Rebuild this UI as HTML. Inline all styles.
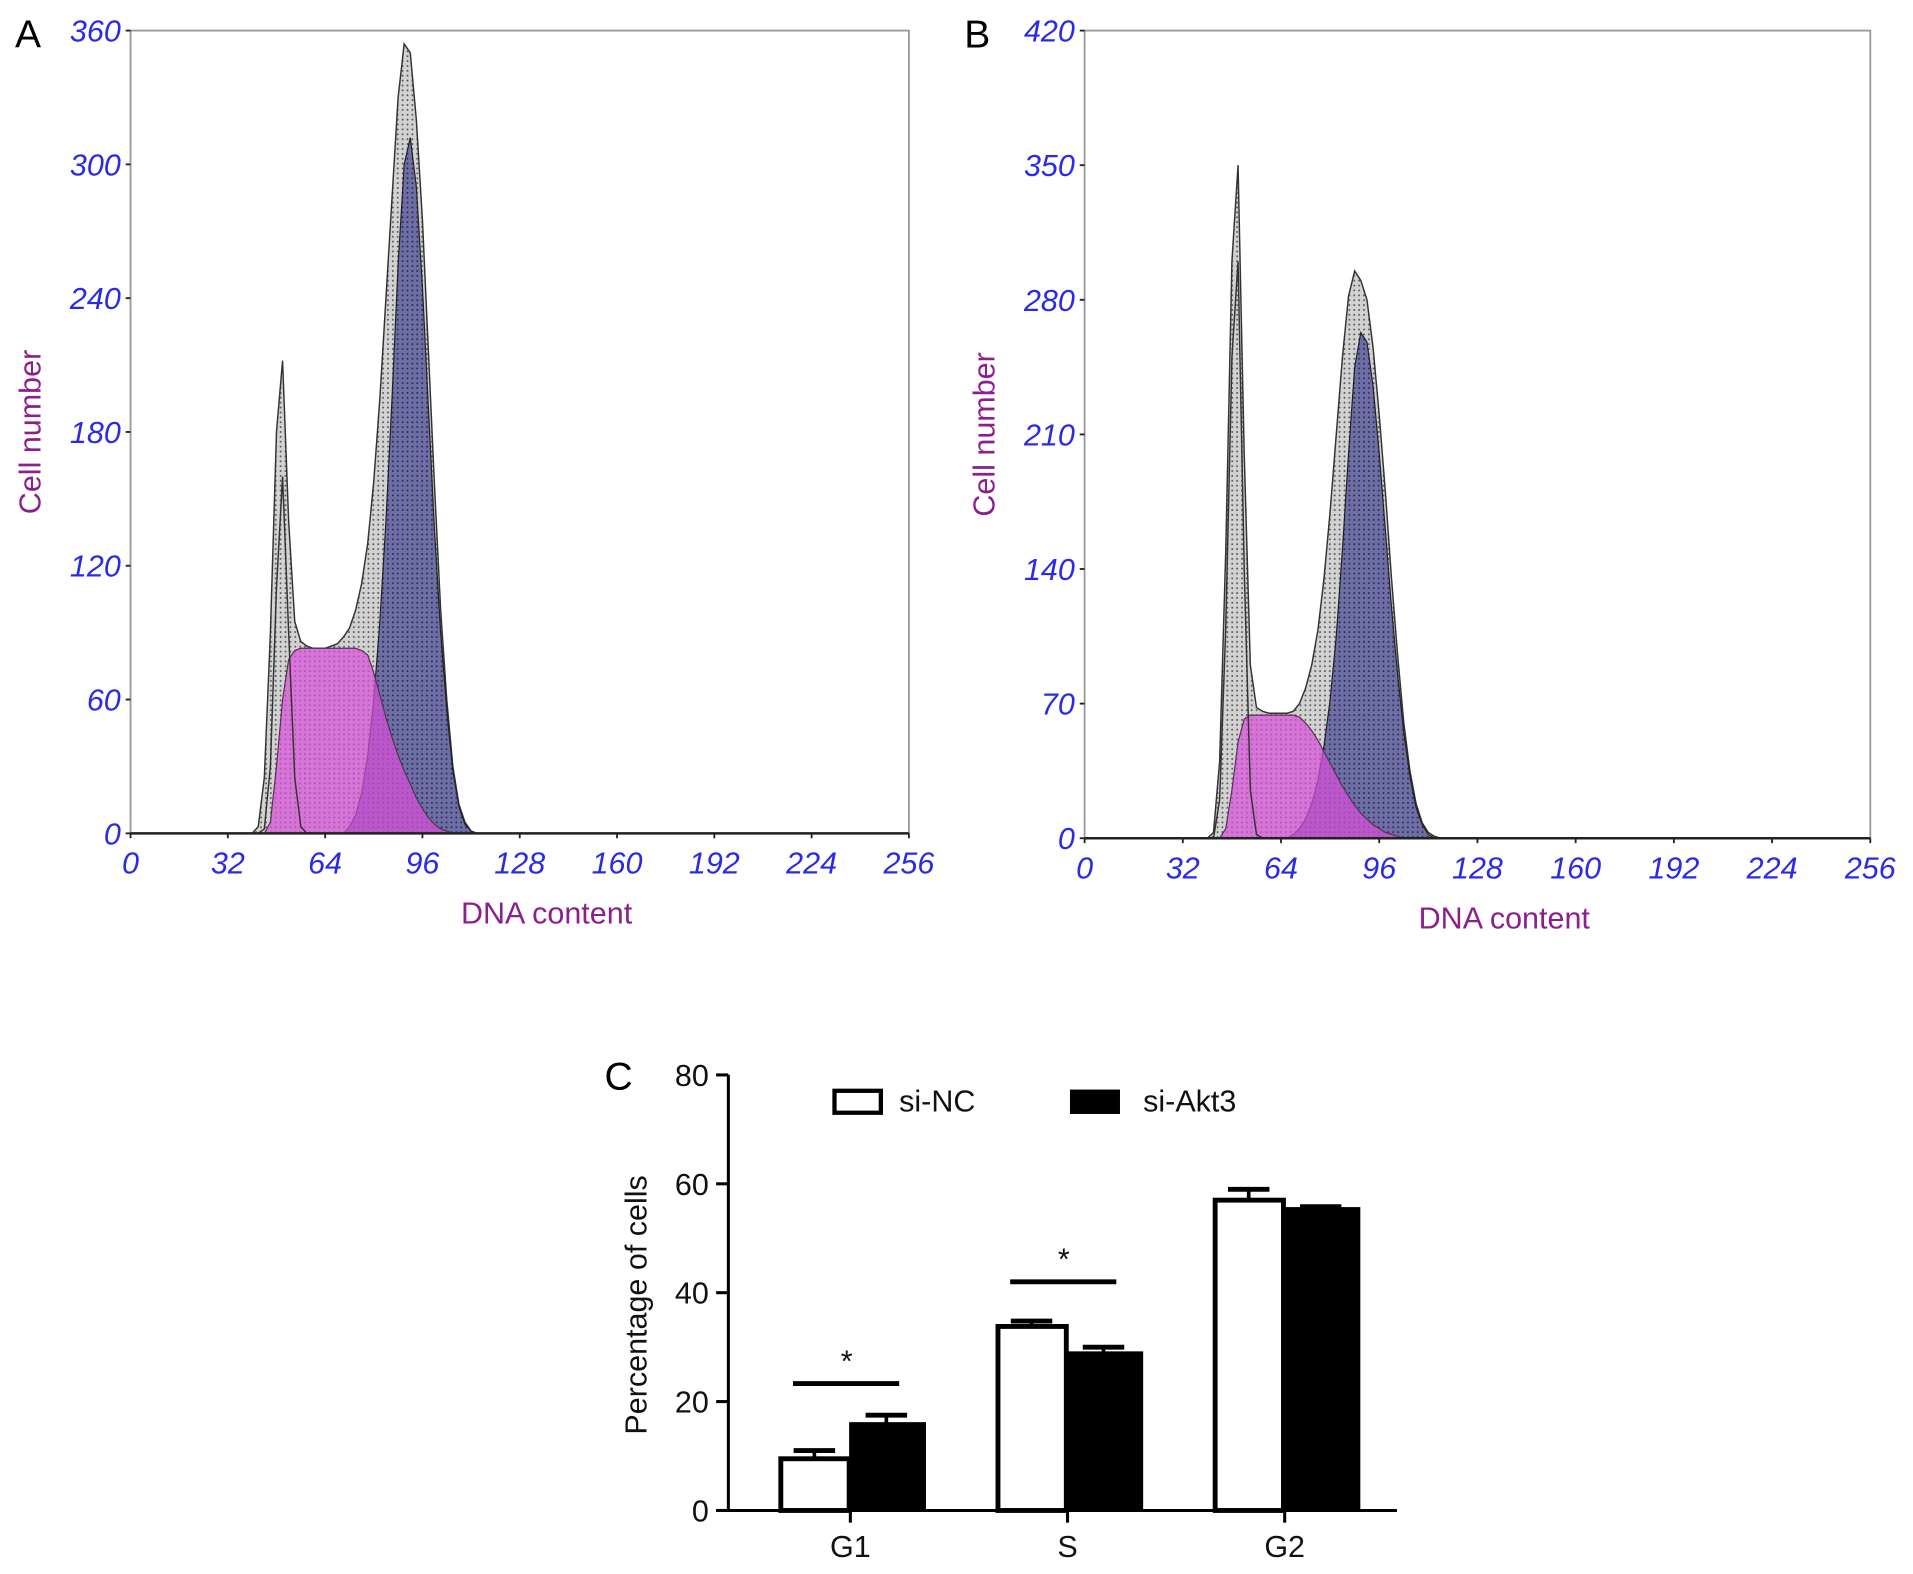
<!DOCTYPE html>
<html><head><meta charset="utf-8"><title>Cell cycle</title>
<style>
html,body{margin:0;padding:0;background:#fff;}
svg{display:block;}
.tk{font-family:"Liberation Sans Narrow","Liberation Sans",sans-serif;font-style:italic;fill:#2a2ae8;font-size:25px;}
.ttl{font-family:"Liberation Sans",sans-serif;fill:#8c1f8c;font-size:25px;}
.ct{font-family:"Liberation Sans Narrow","Liberation Sans",sans-serif;fill:#111;font-size:25px;}
.pl{font-family:"Liberation Sans",sans-serif;fill:#000;font-size:32px;}
</style></head>
<body>
<svg id="fig" width="1913" height="1574" viewBox="0 0 1568 1290" xmlns="http://www.w3.org/2000/svg">
<defs>
<pattern id="dots" width="4" height="4" patternUnits="userSpaceOnUse"><rect width="4" height="4" fill="#d2d2d2"/><circle cx="2" cy="2" r="0.8" fill="#555"/></pattern>
<pattern id="bdots" width="4" height="4" patternUnits="userSpaceOnUse"><rect width="4" height="4" fill="#6e6ea6"/><circle cx="2" cy="2" r="0.8" fill="#2a2a50"/></pattern>
</defs>
<g id="gA"></g>
<g id="gB"></g>
<g id="gC"></g>
</svg>
<script>
// ---- histogram data (DNA content channels) ----
const channels = [40,42,44,46,48,50,52,54,56,58,60,62,64,66,68,70,72,74,76,78,80,82,84,86,88,90,92,94,96,98,100,102,104,106,108,110,112,114,116];
const totalA = [0,3,25,90,180,212,140,95,86,84,83,83,83,84,85,88,92,100,112,130,158,195,240,285,330,354,350,320,275,215,155,100,60,30,13,5,1,0,0];
const g1A    = [0,0,2,30,110,160,90,25,3,0,0,0,0,0,0,0,0,0,0,0,0,0,0,0,0,0,0,0,0,0,0,0,0,0,0,0,0,0,0];
const sA     = [0,0,0,5,30,60,78,82,83,83,83,83,83,83,83,83,83,83,82,80,72,62,52,43,35,28,22,16,11,7,4,2,1,0,0,0,0,0,0];
const g2A    = [0,0,0,0,0,0,0,0,0,0,0,0,0,0,0,0,3,8,18,35,60,95,140,195,255,300,312,290,245,190,135,90,55,28,12,4,1,0,0];
const totalB = [0,3,40,150,300,350,200,90,68,66,65,65,65,65,66,70,78,90,108,135,170,210,250,282,295,290,280,255,220,180,135,95,60,35,18,8,3,1,0];
const g1B    = [0,0,20,110,250,300,140,25,2,0,0,0,0,0,0,0,0,0,0,0,0,0,0,0,0,0,0,0,0,0,0,0,0,0,0,0,0,0,0];
const sB     = [0,0,0,5,25,50,62,64,64,64,64,64,64,64,64,63,60,56,51,45,39,33,27,22,17,13,10,7,5,3,2,1,0,0,0,0,0,0,0];
const g2B    = [0,0,0,0,0,0,0,0,0,0,0,0,0,0,2,5,10,18,30,48,72,105,150,200,245,263,258,235,200,160,120,85,55,32,16,7,2,0,0];
const xTicks = [0,32,64,96,128,160,192,224,256];
const yTicksA = [0,60,120,180,240,300,360];
const yTicksB = [0,70,140,210,280,350,420];

// ---- bar chart data ----
const phases = ["G1","S","G2"];
const siNC = [9.5,33.8,57];
const siNCerr = [1.5,1.0,2.0];
const siAkt3 = [16,29,55.5];
const siAkt3err = [1.5,1.0,0.3];
const yTicksC = [0,20,40,60,80];

const NS="http://www.w3.org/2000/svg";
function mk(parent,tag,attrs,text){const e=document.createElementNS(NS,tag);for(const k in attrs)e.setAttribute(k,attrs[k]);if(text!==undefined)e.textContent=text;parent.appendChild(e);return e;}

function histo(g,L,R,T,B,ymax,yTicks,total,g1,s,g2,letter,lx){
  const sx=v=>L+(v/256)*(R-L), sy=v=>B-(v/ymax)*(B-T);
  const area=arr=>{let d="M"+sx(channels[0])+","+sy(0);channels.forEach((c,i)=>{d+=" L"+sx(c)+","+sy(arr[i]);});d+=" L"+sx(channels[channels.length-1])+","+sy(0)+"Z";return d;};
  const frame=mk(g,"rect",{x:L,y:T,width:R-L,height:B-T,fill:"none",stroke:"#999","stroke-width":1.5});
  
  const pt=mk(g,"path",{d:area(total),fill:"url(#dots)",stroke:"#333","stroke-width":1.2});
  
  const p2=mk(g,"path",{d:area(g2),fill:"url(#bdots)",stroke:"#222","stroke-width":1});
  
  const ps=mk(g,"path",{d:area(s),fill:"#d84fd8","fill-opacity":0.72,stroke:"#553355","stroke-width":1});
  
  const p1=mk(g,"path",{d:area(g1),fill:"none",stroke:"#333","stroke-width":1.2});
  
  const ax=mk(g,"line",{x1:L,y1:B,x2:R,y2:B,stroke:"#222","stroke-width":2});
  
  xTicks.forEach(v=>{
    mk(g,"line",{x1:sx(v),y1:B,x2:sx(v),y2:B+4,stroke:"#222","stroke-width":1.5});
    const t=mk(g,"text",{x:sx(v),y:B+33,"text-anchor":"middle",class:"tk"},String(v));
    
  });
  yTicks.forEach(v=>{
    mk(g,"line",{x1:L-4,y1:sy(v),x2:L,y2:sy(v),stroke:"#222","stroke-width":1.5});
    const t=mk(g,"text",{x:L-8,y:sy(v)+9,"text-anchor":"end",class:"tk"},String(v));
    
  });
  const xt=mk(g,"text",{x:(L+R)/2+22,y:B+74,"text-anchor":"middle",class:"ttl"},"DNA content");
  
  const yt=mk(g,"text",{x:0,y:0,"text-anchor":"middle",class:"ttl",transform:`translate(${L-74},${(T+B)/2}) rotate(-90)`},"Cell number");
  
  const pl=mk(g,"text",{x:lx,y:T+14,"text-anchor":"middle",class:"pl"},letter);
  
}
histo(document.getElementById('gA'),107,745,25,683,360,yTicksA,totalA,g1A,sA,g2A,"A",23);
histo(document.getElementById('gB'),889,1533,25,687,420,yTicksB,totalB,g1B,sB,g2B,"B",801);

// ---- panel C ----
(function(){
  const g=document.getElementById('gC');
  const L=597,R=1145,T=881,B=1238,ymax=80;
  const sy=v=>B-(v/ymax)*(B-T);
  const centers=[697,875,1053], bw=59;
  mk(g,"line",{x1:L,y1:T,x2:L,y2:B,stroke:"#000","stroke-width":2.5});
  const xa=mk(g,"line",{x1:L-10,y1:B,x2:R,y2:B,stroke:"#000","stroke-width":2.5});
  
  yTicksC.forEach(v=>{
    mk(g,"line",{x1:L-10,y1:sy(v),x2:L,y2:sy(v),stroke:"#000","stroke-width":2.5});
    const t=mk(g,"text",{x:L-16,y:sy(v)+9,"text-anchor":"end",class:"ct"},String(v));
    
  });
  phases.forEach((p,i)=>{
    const c=centers[i];
    mk(g,"line",{x1:c,y1:B,x2:c,y2:B+10,stroke:"#000","stroke-width":2.5});
    const t=mk(g,"text",{x:c,y:B+38,"text-anchor":"middle",class:"ct"},p);
    
    [[c-bw,siNC[i],siNCerr[i]],[c,siAkt3[i],siAkt3err[i]]].forEach(([x,v,e])=>{
      mk(g,"line",{x1:x+bw/2,y1:sy(v),x2:x+bw/2,y2:sy(v+e),stroke:"#000","stroke-width":3});
      mk(g,"line",{x1:x+bw/2-17,y1:sy(v+e),x2:x+bw/2+17,y2:sy(v+e),stroke:"#000","stroke-width":4});
    });
    const b1=mk(g,"rect",{x:c-bw+2,y:sy(siNC[i]),width:bw-3,height:B-sy(siNC[i]),fill:"#fff",stroke:"#000","stroke-width":4});
    
    const b2=mk(g,"rect",{x:c,y:sy(siAkt3[i]),width:bw+2,height:B-sy(siAkt3[i]),fill:"#000",stroke:"#000","stroke-width":2});
    
  });
  [[0,23.3],[1,42]].forEach(([i,v])=>{
    const c=centers[i];
    const l=mk(g,"line",{x1:c-47,y1:sy(v),x2:c+40,y2:sy(v),stroke:"#000","stroke-width":4});
    
    const s=mk(g,"text",{x:c-3,y:sy(v)-10,"text-anchor":"middle",class:"ct"},"*");
    
  });
  const yt=mk(g,"text",{x:0,y:0,"text-anchor":"middle",class:"ct",transform:`translate(${L-67},${(T+B)/2+10}) rotate(-90)`},"Percentage of cells");
  
  const lg1=mk(g,"rect",{x:684,y:894,width:38,height:18,fill:"#fff",stroke:"#000","stroke-width":3.5});
  
  const lt1=mk(g,"text",{x:737,y:911,class:"ct"},"si-NC");
  
  const lg2=mk(g,"rect",{x:877,y:893,width:41,height:20,fill:"#000"});
  
  const lt2=mk(g,"text",{x:937,y:911,class:"ct"},"si-Akt3");
  
  const pl=mk(g,"text",{x:507,y:893,"text-anchor":"middle",class:"pl"},"C");
  
})();
</script>
</body></html>
